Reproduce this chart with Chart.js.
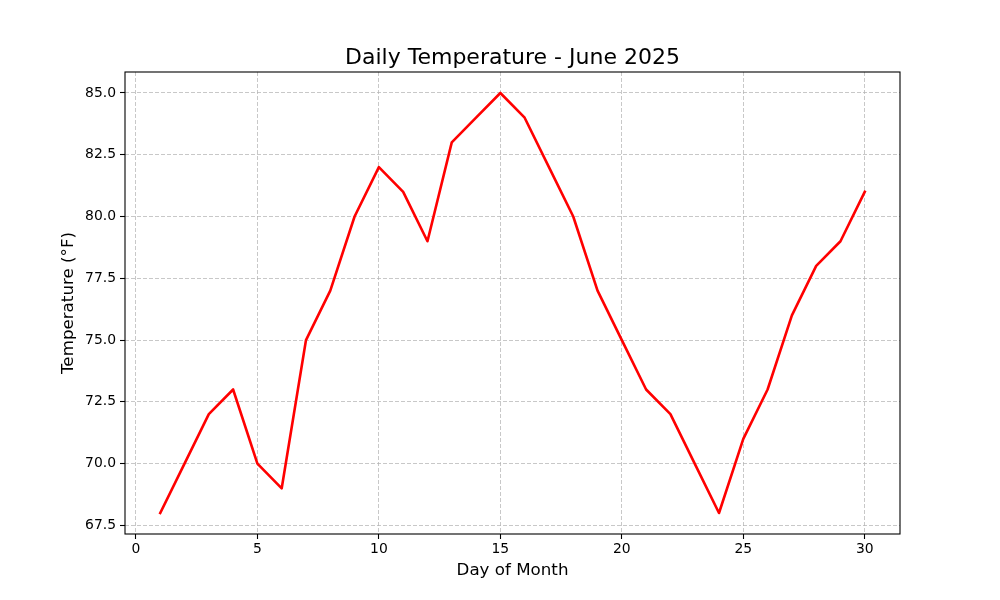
<!DOCTYPE html>
<html>
<head>
<meta charset="utf-8">
<script src="https://cdn.jsdelivr.net/npm/chart.js@4"></script>
<style>
  html, body { margin: 0; padding: 0; background: #fff; }
  #wrap { width: 1000px; height: 600px; }
</style>
</head>
<body>
<div id="wrap"><canvas id="chart" width="1000" height="600"></canvas></div>
<script>
'use strict'

// days of june and the temperature
const days = [1, 2, 3, 4, 5, 6, 7, 8, 9, 10, 11, 12, 13, 14, 15,
              16, 17, 18, 19, 20, 21, 22, 23, 24, 25, 26, 27, 28, 29, 30]
const temps = [68, 70, 72, 73, 70, 69, 75, 77, 80, 82, 81, 79, 83, 84, 85,
               84, 82, 80, 77, 75, 73, 72, 70, 68, 71, 73, 76, 78, 79, 81]

const xTicks = [0, 5, 10, 15, 20, 25, 30]
const yTicks = [67.5, 70, 72.5, 75, 77.5, 80, 82.5, 85]

const titleText = 'Daily Temperature - June 2025'

const FONT = 'DejaVu Sans'
const gridColor = 'rgba(176,176,176,0.7)'

// black frame round the plot area + title centred over it (matplotlib style)
const frame = {
    id: 'frame',
    afterDraw(chart) {
        const {ctx, chartArea: a} = chart
        ctx.save()
        ctx.strokeStyle = '#000'
        ctx.lineWidth = 1.1
        ctx.strokeRect(a.left, a.top, a.right - a.left, a.bottom - a.top)

        ctx.fillStyle = '#000'
        ctx.font = '22px "' + FONT + '"'
        ctx.textAlign = 'center'
        ctx.textBaseline = 'alphabetic'
        ctx.fillText(titleText, (a.left + a.right) / 2, 64)
        ctx.restore()
    }
}

const CHART = document.querySelector('#chart').getContext('2d')

let points = days.map((d, i) => ({x: d, y: temps[i]}))

var lineChart = new Chart(CHART, {
    type: 'line',
    data: {
        datasets: [{
            data: points,
            borderColor: '#ff0000',
            borderWidth: 2.6,
            borderJoinStyle: 'round',
            borderCapStyle: 'square',
            pointRadius: 0,
            tension: 0,
            fill: false
        }]
    },
    options: {
        responsive: false,
        animation: false,
        devicePixelRatio: 1,
        layout: {padding: {left: 0, right: 100, top: 72, bottom: 0}},
        plugins: {
            legend: {display: false},
            tooltip: {enabled: false},
            title: {display: false}
        },
        scales: {
            x: {
                type: 'linear',
                min: -0.45,
                max: 31.45,
                afterBuildTicks: s => { s.ticks = xTicks.map(v => ({value: v})) },
                afterFit: s => { s.height = 66 },
                ticks: {
                    color: '#000',
                    font: {family: FONT, size: 13.9},
                    padding: 2,
                    maxRotation: 0
                },
                grid: {
                    color: gridColor,
                    lineWidth: 1,
                    drawTicks: true,
                    tickLength: 5,
                    tickColor: '#000',
                    tickWidth: 1.1
                },
                border: {display: false, dash: [4, 2]},
                title: {
                    display: true,
                    text: 'Day of Month',
                    color: '#000',
                    font: {family: FONT, size: 16.7},
                    padding: {top: 0, bottom: 19}
                }
            },
            y: {
                type: 'linear',
                min: 67.15,
                max: 85.85,
                afterBuildTicks: s => { s.ticks = yTicks.map(v => ({value: v})) },
                afterFit: s => { s.width = 125 },
                ticks: {
                    color: '#000',
                    font: {family: FONT, size: 13.9},
                    padding: 4,
                    callback: v => v.toFixed(1)
                },
                grid: {
                    color: gridColor,
                    lineWidth: 1,
                    drawTicks: true,
                    tickLength: 5,
                    tickColor: '#000',
                    tickWidth: 1.1
                },
                border: {display: false, dash: [4, 2]},
                title: {
                    display: true,
                    text: 'Temperature (°F)',
                    color: '#000',
                    font: {family: FONT, size: 16.7},
                    padding: {top: 59, bottom: 0}
                }
            }
        }
    },
    plugins: [frame]
})
</script>
</body>
</html>
